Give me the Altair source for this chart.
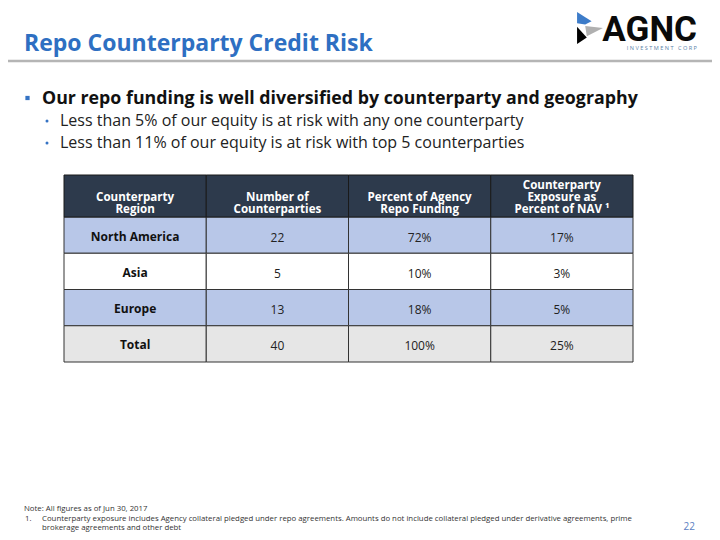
import altair as alt
import pandas as pd

# ---------------- data ----------------
regions = ["North America", "Asia", "Europe", "Total"]
num_counterparties = [22, 5, 13, 40]
pct_agency_repo_funding = [72, 10, 18, 100]
exposure_pct_nav = [17, 3, 5, 25]

columns = ["Counterparty Region", "Number of Counterparties",
           "Percent of Agency Repo Funding", "Counterparty Exposure as Percent of NAV"]
# header cells, one list of lines per column (bottom aligned in the cell)
header_lines = [["Counterparty", "Region"], ["Number of", "Counterparties"],
                ["Percent of Agency", "Repo Funding"], ["Counterparty", "Exposure as", "Percent of NAV \u00b9"]]
row_fills = ["#b8c7e8", "#ffffff", "#b8c7e8", "#e6e6e6"]

title_text = "Repo Counterparty Credit Risk"
headline = "Our repo funding is well diversified by counterparty and geography"
sub_bullets = ["Less than 5% of our equity is at risk with any one counterparty",
               "Less than 11% of our equity is at risk with top 5 counterparties"]
note_text = "Note: All figures as of Jun 30, 2017"
footnote_lines = ["Counterparty exposure includes Agency collateral pledged under repo agreements. Amounts do not include collateral pledged under derivative agreements, prime",
                  "brokerage agreements and other debt"]
page_number = "22"

# ---------------- tables ----------------
cells = []
for i, r in enumerate(regions):
    vals = [r, str(num_counterparties[i]), f"{pct_agency_repo_funding[i]}%", f"{exposure_pct_nav[i]}%"]
    for j, c in enumerate(columns):
        cells.append({"row": r, "col": c, "label": vals[j], "first": j == 0})
cells = pd.DataFrame(cells)
# pad every header to three lines so the text block sits at the cell bottom
headers = pd.DataFrame({"col": columns,
                        "label": ["\n".join([""] * (3 - len(h)) + h) for h in header_lines]})

O = 8  # page margin
def px(v):
    return v - O

W, H = 720 - 2 * O, 540 - 2 * O
FONT = "Open Sans"

xs = alt.Scale(domain=columns, range=[px(64), px(633)], paddingInner=0, paddingOuter=0)
ys = alt.Scale(domain=regions, range=[px(217), px(362)], paddingInner=0, paddingOuter=0)
fills = alt.Scale(domain=regions, range=row_fills)

one = pd.DataFrame({"k": [0]})

body_rect = alt.Chart(cells).mark_rect(stroke="#333333", strokeWidth=1).encode(
    x=alt.X("col:N", scale=xs, axis=None, sort=columns),
    y=alt.Y("row:N", scale=ys, axis=None, sort=regions),
    fill=alt.Fill("row:N", scale=fills, legend=None),
)
body_first = alt.Chart(cells).transform_filter("datum.first").mark_text(
    font=FONT, fontSize=12, fontWeight="bold", color="#111111", dy=1.5).encode(
    x=alt.X("col:N", scale=xs, axis=None, sort=columns, bandPosition=0.5),
    y=alt.Y("row:N", scale=ys, axis=None, sort=regions, bandPosition=0.5),
    text="label:N",
)
body_vals = alt.Chart(cells).transform_filter("!datum.first").mark_text(
    font=FONT, fontSize=12, color="#222222", dy=2.5).encode(
    x=alt.X("col:N", scale=xs, axis=None, sort=columns, bandPosition=0.5),
    y=alt.Y("row:N", scale=ys, axis=None, sort=regions, bandPosition=0.5),
    text="label:N",
)
head_rect = alt.Chart(headers).mark_rect(fill="#2d3a4c", stroke="#1a1a1a", strokeWidth=1).encode(
    x=alt.X("col:N", scale=xs, axis=None, sort=columns),
    y=alt.value(px(175)), y2=alt.value(px(217)),
)
head_text = alt.Chart(headers).mark_text(
    font=FONT, fontSize=11.6, fontWeight="bold", color="#ffffff",
    lineBreak="\n", lineHeight=12.4, baseline="middle").encode(
    x=alt.X("col:N", scale=xs, axis=None, sort=columns, bandPosition=0.5),
    y=alt.value(px(185.5)),
    text="label:N",
)

def txt(s, x, y, **kw):
    return alt.Chart(one).mark_text(text=s, align=kw.pop("align", "left"),
                                    baseline=kw.pop("baseline", "alphabetic"), **kw).encode(
        x=alt.value(px(x)), y=alt.value(px(y)))

title = txt(title_text, 24, 51, font=FONT, fontSize=23, fontWeight="bold", color="#2e6fc2")
sep = alt.Chart(one).mark_rule(color="#b5b5b5", strokeWidth=2.5).encode(
    x=alt.value(px(0)), x2=alt.value(px(720)), y=alt.value(px(61)))

bullet_sq = alt.Chart(one).mark_point(shape="square", filled=True, size=18, color="#3573c4", opacity=1).encode(
    x=alt.value(px(27.5)), y=alt.value(px(98)))
head_t = txt(headline, 42, 103.5, font=FONT, fontSize=17.8, fontWeight="bold", color="#111111")
sub1_dot = alt.Chart(one).mark_point(shape="circle", filled=True, size=9, color="#3573c4", opacity=1).encode(
    x=alt.value(px(47)), y=alt.value(px(121)))
sub2_dot = alt.Chart(one).mark_point(shape="circle", filled=True, size=9, color="#3573c4", opacity=1).encode(
    x=alt.value(px(47)), y=alt.value(px(143)))
sub1 = txt(sub_bullets[0], 60, 126, font=FONT, fontSize=16, color="#222222")
sub2 = txt(sub_bullets[1], 60, 148, font=FONT, fontSize=16, color="#222222")

note = txt(note_text, 24, 511, font=FONT, fontSize=7.8, color="#333333")
fn_num = txt("1.", 25, 521, font=FONT, fontSize=7.8, color="#333333")
fn1 = txt(footnote_lines[0], 42, 521, font=FONT, fontSize=7.8, color="#333333")
fn2 = txt(footnote_lines[1], 42, 530, font=FONT, fontSize=7.8, color="#333333")
pnum = txt(page_number, 695, 530, font=FONT, fontSize=10, color="#5b80c2", align="right")

# logo
def shape(path, color):
    return alt.Chart(one).mark_point(shape=path, filled=True, size=1024, color=color,
                                     opacity=1, strokeWidth=0).encode(
        x=alt.value(px(590)), y=alt.value(px(28)))
logo_blue = shape("M-0.81,-1L0.1,-0.42L-0.3,-0.22L-0.81,-0.3Z", "#3d7cc9")
logo_grey = shape("M-0.3,-0.12L0.81,0L-0.2,0.52Z", "#b0b0b0")
logo_black = shape("M-0.81,-0.08L-0.2,0.6L-0.81,1Z", "#000000")
logo_txt = txt("AGNC", 697, 41, font="Roboto", fontSize=35, fontWeight="bold", color="#0a0a0a", align="right")
logo_sub = txt("\u00a0".join("INVESTMENT") + "\u00a0\u00a0\u00a0" + "\u00a0".join("CORP"),
               697, 49.5, font=FONT, fontSize=5.6, color="#5b7fa8", align="right")

chart = alt.layer(
    sep, title, logo_blue, logo_grey, logo_black, logo_txt, logo_sub,
    bullet_sq, head_t, sub1_dot, sub2_dot, sub1, sub2,
    body_rect, head_rect, head_text, body_first, body_vals,
    note, fn_num, fn1, fn2, pnum,
).properties(
    width=W, height=H, padding=0, autosize=alt.AutoSizeParams(type="none"),
    background="#ffffff",
).configure_view(stroke=None)

chart.save("out.html", embed_options={"renderer": "svg", "actions": False})
